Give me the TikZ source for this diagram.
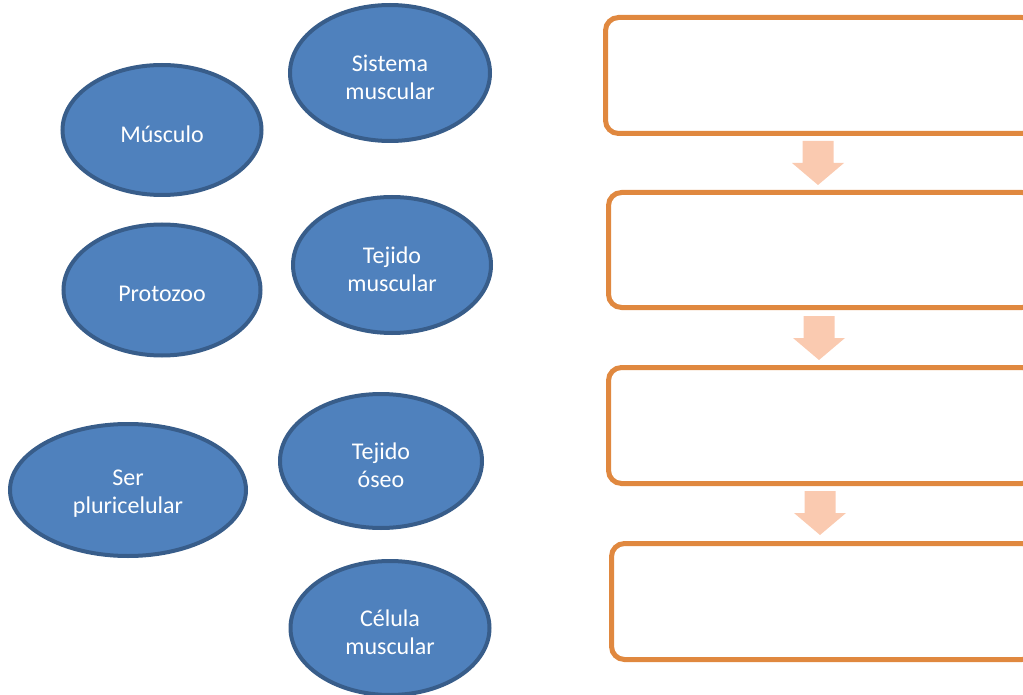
\documentclass[tikz,border=0pt]{standalone}
\usepackage{fontspec}
\setmainfont{Carlito}
\usetikzlibrary{shapes.geometric}
\definecolor{ellfill}{HTML}{4F81BD}
\definecolor{elldraw}{HTML}{385D8A}
\definecolor{boxdraw}{HTML}{E0883F}
\definecolor{arrfill}{HTML}{FACAB0}
\begin{document}
\begin{tikzpicture}[x=1pt,y=-1pt,
  oval/.style={ellipse,draw=elldraw,fill=ellfill,line width=4pt,inner sep=0pt},
  ovaltext/.style={text=white,font=\fontsize{24}{28}\selectfont,align=center,inner sep=0pt,yshift=-4pt},
  stagebox/.style={draw=boxdraw,line width=5pt,rounded corners=13pt,fill=white},
  downarrow/.style={fill=arrfill,draw=none}]
\useasboundingbox (0,0) rectangle (1023,695);
\clip (0,0) rectangle (1023,695);
% ellipses
\node[oval,minimum width=200pt,minimum height=136pt,label={[ovaltext]center:Sistema\\muscular}] (sist) at (390,73) {};
\node[oval,minimum width=199pt,minimum height=130pt,label={[ovaltext]center:Músculo}] (musc) at (162,130) {};
\node[oval,minimum width=198pt,minimum height=136pt,label={[ovaltext]center:Tejido\\muscular}] (tmus) at (392,265) {};
\node[oval,minimum width=197pt,minimum height=131pt,label={[ovaltext]center:Protozoo}] (prot) at (162,290) {};
\node[oval,minimum width=202pt,minimum height=134pt,label={[ovaltext]center:Tejido\\óseo}] (toseo) at (381,461) {};
\node[oval,minimum width=236pt,minimum height=132pt,label={[ovaltext]center:Ser\\pluricelular}] (ser) at (128,490) {};
\node[oval,minimum width=199pt,minimum height=134pt,label={[ovaltext]center:Célula\\muscular}] (cel) at (390,628) {};
% boxes
\draw[stagebox] (605.5,17.5) rectangle (1035,133.5);
\draw[stagebox] (608.5,192.5) rectangle (1035,307.5);
\draw[stagebox] (608.5,367.5) rectangle (1035,483.5);
\draw[stagebox] (611.5,543.5) rectangle (1035,659.5);
% arrows
\foreach \cx/\ty in {818/141, 819/316, 820/491}{
  \fill[downarrow] (\cx-15.5,\ty) -- (\cx+15.5,\ty) -- (\cx+15.5,\ty+22) -- (\cx+26,\ty+22)
    -- (\cx,\ty+44) -- (\cx-26,\ty+22) -- (\cx-15.5,\ty+22) -- cycle;
}
\end{tikzpicture}
\end{document}
